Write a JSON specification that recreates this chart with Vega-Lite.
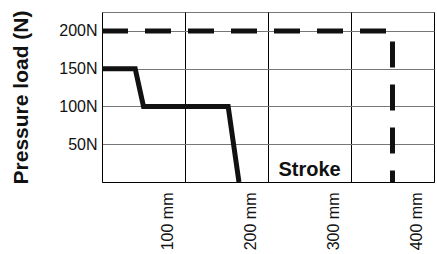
{
  "$schema": "https://vega.github.io/schema/vega-lite/v6.json",
  "autosize": "none",
  "width": 332,
  "height": 170,
  "padding": {"left": 102, "top": 12, "right": 3, "bottom": 72},
  "background": "white",
  "config": {
    "font": "Liberation Sans",
    "view": {"stroke": "#777", "strokeWidth": 1},
    "axis": {"labelColor": "#111", "titleColor": "#111", "labelFont": "Liberation Sans", "titleFont": "Liberation Sans"}
  },
  "datasets": {
    "solid": [
      {"i": 0, "stroke_mm": 0, "load": 150},
      {"i": 1, "stroke_mm": 40, "load": 150},
      {"i": 2, "stroke_mm": 50, "load": 100},
      {"i": 3, "stroke_mm": 152, "load": 100},
      {"i": 4, "stroke_mm": 165, "load": 0}
    ],
    "dashed": [
      {"i": 0, "stroke_mm": 0, "load": 200},
      {"i": 1, "stroke_mm": 350, "load": 200},
      {"i": 2, "stroke_mm": 350, "load": 0}
    ],
    "label": [
      {"stroke_mm": 250, "load": 8, "text": "Stroke"}
    ]
  },
  "encoding": {
    "x": {
      "field": "stroke_mm", "type": "quantitative",
      "scale": {"domain": [0, 400], "nice": false, "zero": false},
      "axis": {
        "title": null, "values": [100, 200, 300, 400],
        "labelExpr": "datum.value + ' mm'",
        "grid": true, "gridColor": "#000", "gridWidth": 1,
        "domainColor": "#000", "domainWidth": 1,
        "ticks": false, "labelAngle": 270, "labelFontSize": 16,
        "labelOffset": -18, "labelPadding": 10
      }
    },
    "y": {
      "field": "load", "type": "quantitative",
      "scale": {"domain": [0, 225], "nice": false},
      "axis": {
        "title": "Pressure load (N)", "values": [50, 100, 150, 200],
        "labelExpr": "datum.value + 'N'",
        "grid": true, "gridColor": "#777", "gridWidth": 1,
        "domainColor": "#000", "domainWidth": 1,
        "ticks": false, "labelFontSize": 16, "labelPadding": 5,
        "titleFontSize": 21, "titleFontWeight": "bold", "titlePadding": 27
      }
    }
  },
  "layer": [
    {
      "data": {"name": "solid"},
      "mark": {"type": "line", "color": "#111", "strokeWidth": 5, "strokeJoin": "miter", "strokeCap": "butt"},
      "encoding": {"order": {"field": "i"}}
    },
    {
      "data": {"name": "dashed"},
      "mark": {"type": "line", "color": "#111", "strokeWidth": 5, "strokeDash": [26, 17], "strokeCap": "butt", "strokeJoin": "miter"},
      "encoding": {"order": {"field": "i"}}
    },
    {
      "data": {"name": "label"},
      "mark": {"type": "text", "fontSize": 20, "fontWeight": "bold", "color": "#111", "align": "center", "baseline": "alphabetic"},
      "encoding": {"text": {"field": "text"}}
    }
  ]
}
